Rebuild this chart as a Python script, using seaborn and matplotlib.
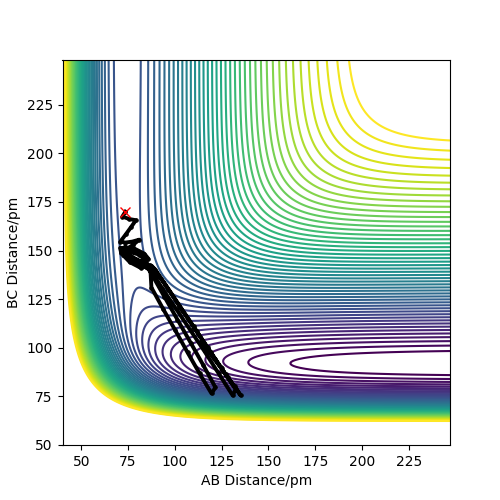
import numpy as np
import pandas as pd
import seaborn as sns
import matplotlib
matplotlib.use("Agg")
import matplotlib.pyplot as plt

# LEPS surface parameters (kJ/mol, pm): A-B is H-H, B-C and A-C are H-F
D_HH, RE_HH, B_HH, K_HH = 458.0, 74.1, 0.0194, 0.10
D_HF, RE_HF, B_HF, K_HF = 591.0, 91.7, 0.0222, 0.17

ab_range = (40.0, 247.0)
bc_range = (50.0, 248.0)
n_levels = 50
level_low, level_high = -578.0, -90.0

# trajectory
traj_ab = [73.6, 72.0, 75.7, 79.2, 76.8, 74.1, 70.9, 73.6, 77.3, 81.0, 77.8, 74.6, 71.4,
           73.6, 78.4, 83.7, 85.9, 82.1, 75.7, 70.9, 75.2, 81.1, 84.8, 80.0, 74.6, 72.5, 76.8, 81.1,
           84.0, 79.0, 73.5, 71.0, 77.0, 83.0, 86.5, 82.0, 76.0, 72.5, 78.0, 84.5, 87.0,
           87.5, 93.9, 100.3, 106.8, 113.2, 119.6,
           121.7, 115.3, 108.4, 101.4, 94.4, 87.5, 83.7,
           86.4, 93.4, 100.9, 108.4, 115.9, 123.4, 130.9,
           132.5, 125.0, 117.5, 110.0, 102.5, 95.0, 87.5,
           89.6, 96.6, 104.1, 111.6, 119.1, 127.1, 135.2,
           132.0, 128.2, 124.5, 121.2, 118.0, 114.8]
traj_bc = [170.0, 167.5, 166.2, 165.6, 162.3, 158.7, 154.6, 154.1, 154.6, 155.6, 153.0, 151.0, 148.9,
           150.5, 151.0, 148.4, 145.8, 144.3, 147.4, 151.5, 149.4, 147.9, 144.3, 143.3, 146.4, 148.9, 146.4, 142.2,
           146.0, 149.5, 152.0, 150.0, 146.5, 143.5, 142.5, 141.0, 144.0, 147.5, 145.0, 141.5, 139.5,
           131.0, 119.7, 108.9, 97.6, 86.8, 76.5,
           79.6, 90.9, 102.7, 114.5, 126.3, 138.1, 144.3,
           141.2, 130.4, 119.7, 108.9, 98.1, 86.8, 75.5,
           78.6, 89.4, 100.2, 111.0, 121.7, 132.5, 142.2,
           140.2, 129.9, 119.1, 108.4, 97.6, 86.3, 75.5,
           80.1, 84.8, 89.9, 94.0, 98.6, 103.2]
start_ab, start_bc = 73.6, 170.0


def coulomb_exchange(r, D, re, b, k):
    e1 = np.exp(-b * (r - re))
    e2 = e1 ** 2
    c = D / (4 * (1 + k))
    Q = c * ((3 + k) * e2 - (2 + 6 * k) * e1)
    J = c * ((1 + 3 * k) * e2 - (6 + 2 * k) * e1)
    return Q, J


def leps(rab, rbc):
    rac = rab + rbc
    Qab, Jab = coulomb_exchange(rab, D_HH, RE_HH, B_HH, K_HH)
    Qbc, Jbc = coulomb_exchange(rbc, D_HF, RE_HF, B_HF, K_HF)
    Qac, Jac = coulomb_exchange(rac, D_HF, RE_HF, B_HF, K_HF)
    return Qab + Qbc + Qac - np.sqrt(0.5 * ((Jab - Jbc) ** 2 + (Jbc - Jac) ** 2 + (Jac - Jab) ** 2))


ab = np.linspace(*ab_range, 400)
bc = np.linspace(*bc_range, 400)
AB, BC = np.meshgrid(ab, bc)
V = leps(AB, BC)

fig, ax = plt.subplots(figsize=(5, 5), dpi=100)
ax.contour(AB, BC, V, levels=np.linspace(level_low, level_high, n_levels), cmap="viridis")

traj = pd.DataFrame({"AB": traj_ab, "BC": traj_bc})
sns.lineplot(data=traj, x="AB", y="BC", sort=False, estimator=None, color="black",
             marker=".", markersize=5, markeredgecolor="black", linewidth=2.8, ax=ax)
ax.plot(start_ab, start_bc, "x", color="red", markersize=7, zorder=5)

ax.set_xlabel("AB Distance/pm")
ax.set_ylabel("BC Distance/pm")
ax.set_xticks([50, 75, 100, 125, 150, 175, 200, 225])
ax.set_yticks([50, 75, 100, 125, 150, 175, 200, 225])

fig.savefig("out.png", dpi=100)
